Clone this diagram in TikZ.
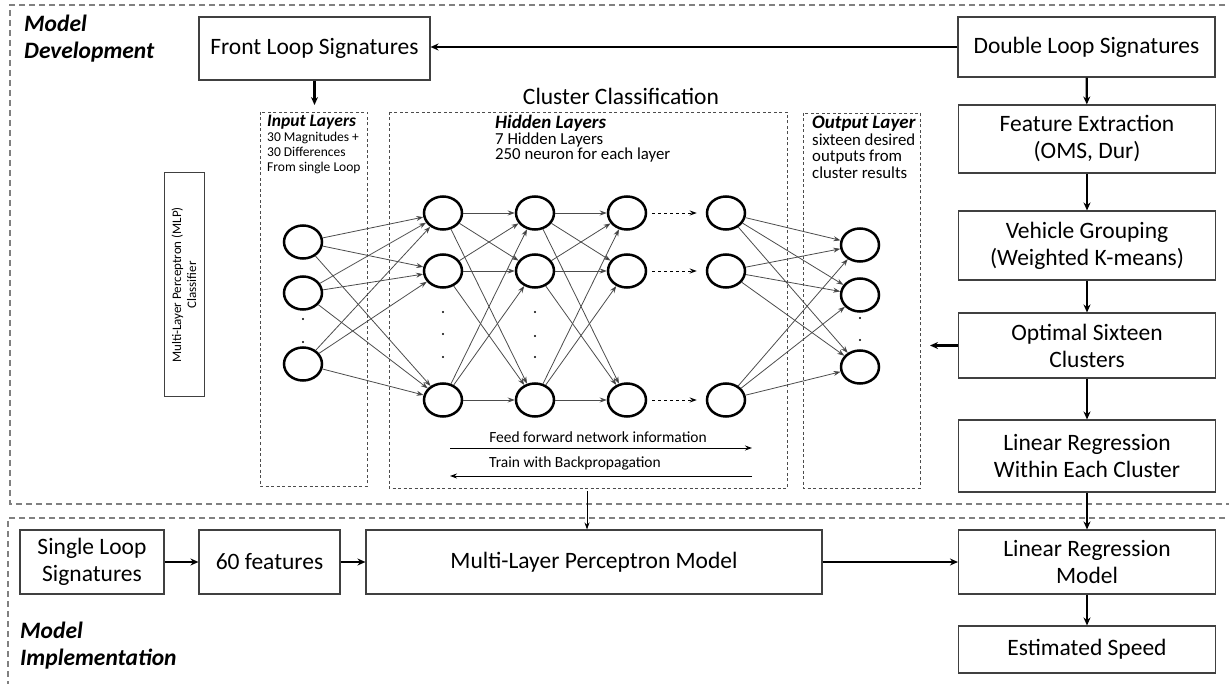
\documentclass[tikz,border=0pt]{standalone}
\usepackage{fontspec}
\setmainfont{Carlito}
\usetikzlibrary{shapes.geometric,arrows.meta}
\begin{document}
\begin{tikzpicture}[x=1pt,y=-1pt,
  box/.style={draw=black!75, line width=1.1pt, fill=white, align=center, font=\fontsize{23.5}{27}\selectfont, inner sep=0pt},
  neuron/.style={draw=black, line width=2.5pt, ellipse, minimum width=38pt, minimum height=33pt, inner sep=0pt},
  conn/.style={draw=black!70, line width=0.8pt, -{Stealth[length=7pt,width=5pt,fill=black]}},
  bigarrow/.style={draw=black, line width=2.2pt, -{Stealth[length=8pt,width=7pt]}},
  thinarrow/.style={draw=black, line width=0.9pt, -{Stealth[length=7pt,width=5pt]}},
  outerdash/.style={draw=black!50, line width=1.2pt, dash pattern=on 6pt off 4pt},
  innerdash/.style={draw=black!70, line width=0.8pt, dash pattern=on 3pt off 2.5pt},
  dotmark/.style={circle, fill=black, inner sep=0pt, minimum size=2.4pt},
  lbl/.style={align=left, inner sep=0pt, anchor=north west},
  title/.style={align=left, inner sep=0pt, anchor=north west, font=\fontsize{23.5}{27}\selectfont\bfseries\itshape}
]
\useasboundingbox (0,0) rectangle (1229,684);

% outer dashed regions
\draw[outerdash] (1235,5) -- (10,5) -- (10,504) -- (1235,504);
\draw[outerdash] (1235,518) -- (8,518) -- (8,690);

\node[title] (mdev) at (24,15) {Model\\Development};
\node[title] (mimp) at (20,622) {Model\\Implementation};

% right column
\node[box, minimum width=257pt, minimum height=60pt] (dbl) at (1086.5,47) {Double Loop Signatures};
\node[box, minimum width=257pt, minimum height=68pt] (fe) at (1087,139) {Feature Extraction\\(OMS, Dur)};
\node[box, minimum width=257pt, minimum height=69pt] (vg) at (1087,245.5) {Vehicle Grouping\\(Weighted K-means)};
\node[box, minimum width=257pt, minimum height=65pt] (opt) at (1087,345.5) {Optimal Sixteen\\Clusters};
\node[box, minimum width=257pt, minimum height=72pt] (lrw) at (1087,456) {Linear Regression\\Within Each Cluster};
\node[box, minimum width=257pt, minimum height=64pt] (lrm) at (1087,562) {Linear Regression\\Model};
\node[box, minimum width=257pt, minimum height=47pt] (est) at (1087,649.5) {Estimated Speed};

\draw[bigarrow] (dbl) -- (fe);
\draw[bigarrow] (fe) -- (vg);
\draw[bigarrow] (vg) -- (opt);
\draw[bigarrow] (opt) -- (lrw);
\draw[bigarrow] (lrw) -- (lrm);
\draw[bigarrow] (lrm) -- (est);
\coordinate (optL) at (930,345.5);
\draw[bigarrow] (opt.west) -- (optL);

% front loop
\node[box, minimum width=231pt, minimum height=63pt] (front) at (314.5,48.5) {Front Loop Signatures};
\draw[bigarrow] (dbl.west) -- (dbl.west -| front.east);
\coordinate (inTop) at (314.5,105);
\draw[bigarrow] (front.south) -- (inTop);

\node[font=\fontsize{23.5}{27}\selectfont] (cc) at (621,96) {Cluster Classification};

% MLP classifier label box
\node[draw=black!75, line width=1pt, rotate=90, minimum width=224pt, minimum height=40pt, inner sep=0pt, align=center, font=\fontsize{13}{15}\selectfont] (mlpc) at (184,285) {Multi-Layer Perceptron (MLP)\\Classifier};

% layer boxes
\draw[innerdash] (260,112) rectangle (367,486);
\draw[innerdash] (389,112) rectangle (787,488);
\draw[innerdash] (803,113) rectangle (920,488);

\node[lbl, font=\fontsize{13.5}{15}\selectfont] (inl) at (267,115) {{\fontsize{17.5}{15}\selectfont\bfseries\itshape Input Layers}\\30 Magnitudes +\\30 Differences\\From single Loop};
\node[lbl, font=\fontsize{16.8}{15.5}\selectfont] (hil) at (495,115) {{\fontsize{19}{15.5}\selectfont\bfseries\itshape Hidden Layers}\\7 Hidden Layers\\250 neuron for each layer};
\node[lbl, font=\fontsize{16.8}{16.5}\selectfont] (oul) at (812,116) {{\fontsize{19}{16.5}\selectfont\bfseries\itshape Output Layer}\\sixteen desired\\outputs from\\cluster results};

% neurons
\node[neuron] (i1) at (303,242) {};
\node[neuron] (i2) at (303,293) {};
\node[neuron] (i3) at (303,364) {};
\foreach \n/\x in {ha/443, hb/535, hc/627, hd/726} {
  \node[neuron] (\n1) at (\x,213) {};
  \node[neuron] (\n2) at (\x,271) {};
  \node[neuron] (\n3) at (\x,400) {};
}
\node[neuron] (o1) at (860,245) {};
\node[neuron] (o2) at (860,295) {};
\node[neuron] (o3) at (860,367) {};

% dots
\node[dotmark] (d1) at (303,319) {};
\node[dotmark] (d2) at (303,342) {};
\node[dotmark] (d3) at (443,312) {};
\node[dotmark] (d4) at (443,334) {};
\node[dotmark] (d5) at (443,357) {};
\node[dotmark] (d6) at (535,312) {};
\node[dotmark] (d7) at (535,336) {};
\node[dotmark] (d8) at (535,357) {};
\node[dotmark] (d9) at (860,318) {};
\node[dotmark] (d10) at (860,340) {};

% connections
\foreach \a in {1,2,3} {
  \foreach \b in {1,2,3} {
    \draw[conn] (i\a) -- (ha\b);
    \draw[conn] (ha\a) -- (hb\b);
    \draw[conn] (hb\a) -- (hc\b);
    \draw[conn] (hd\a) -- (o\b);
  }
}
\foreach \a in {1,2,3} {
  \draw[thinarrow, dashed, shorten <=5pt, shorten >=9pt] (hc\a) -- (hd\a);
}

% feed forward / backprop
\coordinate (ffa) at (450,448);
\coordinate (ffb) at (752,448);
\coordinate (bpa) at (752,476);
\coordinate (bpb) at (450,476);
\draw[thinarrow] (ffa) -- (ffb);
\draw[thinarrow] (bpa) -- (bpb);
\node[font=\fontsize{15.5}{18}\selectfont, inner sep=0pt] (fft) at (598,437) {Feed forward network information};
\node[font=\fontsize{15.5}{18}\selectfont, inner sep=0pt] (bpt) at (575,463) {Train with Backpropagation};

% bottom row
\node[box, minimum width=144pt, minimum height=64pt] (sl) at (92,562) {Single Loop\\Signatures};
\node[box, minimum width=141pt, minimum height=64pt] (sixty) at (269.5,562) {60 features};
\node[box, minimum width=456pt, minimum height=64pt] (mlp) at (594,562) {Multi-Layer Perceptron Model};
\draw[bigarrow] (sl) -- (sixty);
\draw[bigarrow] (sixty) -- (mlp);
\draw[bigarrow] (mlp) -- (lrm);
\coordinate (hbot) at (587,491);
\draw[thinarrow] (hbot) -- (hbot |- mlp.north);
\end{tikzpicture}
\end{document}
